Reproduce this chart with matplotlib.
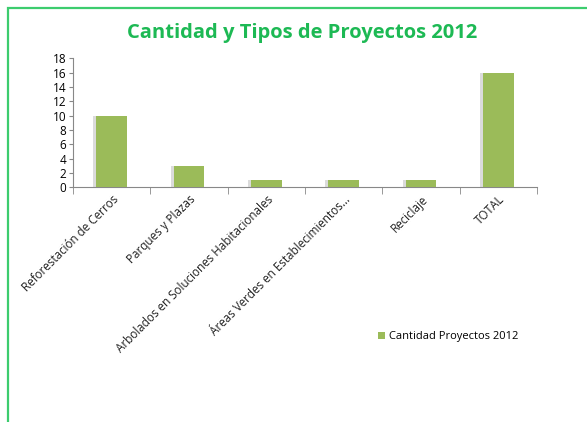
import matplotlib.pyplot as plt
import matplotlib.patheffects as pe
from matplotlib.patches import Rectangle, Patch

categorias = ['Reforestación de Cerros', 'Parques y Plazas',
              'Arbolados en Soluciones Habitacionales',
              'Áreas Verdes en Establecimientos...', 'Reciclaje', 'TOTAL']
cantidad = [10, 3, 1, 1, 1, 16]
serie = 'Cantidad Proyectos 2012'
titulo = 'Cantidad y Tipos de Proyectos 2012'

plt.rcParams['font.family'] = ['Open Sans', 'DejaVu Sans']

fig = plt.figure(figsize=(5.87, 4.22), dpi=100)
ax = fig.add_axes([0.1244, 0.5562, 0.7904, 0.3056])

# borde verde del cuadro
fig.patches.append(Rectangle((8 / 587, -0.1), 1.2, 1 - 8 / 422 + 0.1,
                             transform=fig.transFigure, fill=False,
                             edgecolor='#3ccc6e', linewidth=1.6))

x = range(len(categorias))
barras = ax.bar(x, cantidad, width=0.4, color='#9bbb59', zorder=3)
for b in barras:
    b.set_path_effects([pe.SimplePatchShadow(offset=(-2, 0), shadow_rgbFace='#999999', alpha=0.35),
                        pe.Normal()])

ax.set_xlim(-0.5, len(categorias) - 0.5)
ax.set_ylim(0, 18)
ax.set_yticks(range(0, 19, 2))
ax.tick_params(axis='y', labelsize=8.5, length=3, color='#888888', pad=2)

ax.set_xticks(list(x))
ax.set_xticklabels(categorias, rotation=45, ha='right', rotation_mode='anchor',
                   fontsize=8.4, color='#222222')
ax.tick_params(axis='x', length=0, pad=4)
ax.set_xticks([i - 0.5 for i in range(len(categorias) + 1)], minor=True)
ax.tick_params(axis='x', which='minor', length=5, color='#888888')

for s in ['top', 'right']:
    ax.spines[s].set_visible(False)
for s in ['left', 'bottom']:
    ax.spines[s].set_color('#888888')

fig.text(302 / 587, 1 - 33 / 422, titulo, ha='center', va='center',
         fontsize=14.5, fontweight='bold', color='#1db954')

ax.legend(handles=[Patch(facecolor='#9bbb59', label=serie)],
          loc='center left', bbox_to_anchor=(368 / 587, 1 - 337 / 422),
          bbox_transform=fig.transFigure, frameon=False, fontsize=8,
          handlelength=0.6, handleheight=0.6, handletextpad=0.4)

fig.savefig('out.png', dpi=100)
